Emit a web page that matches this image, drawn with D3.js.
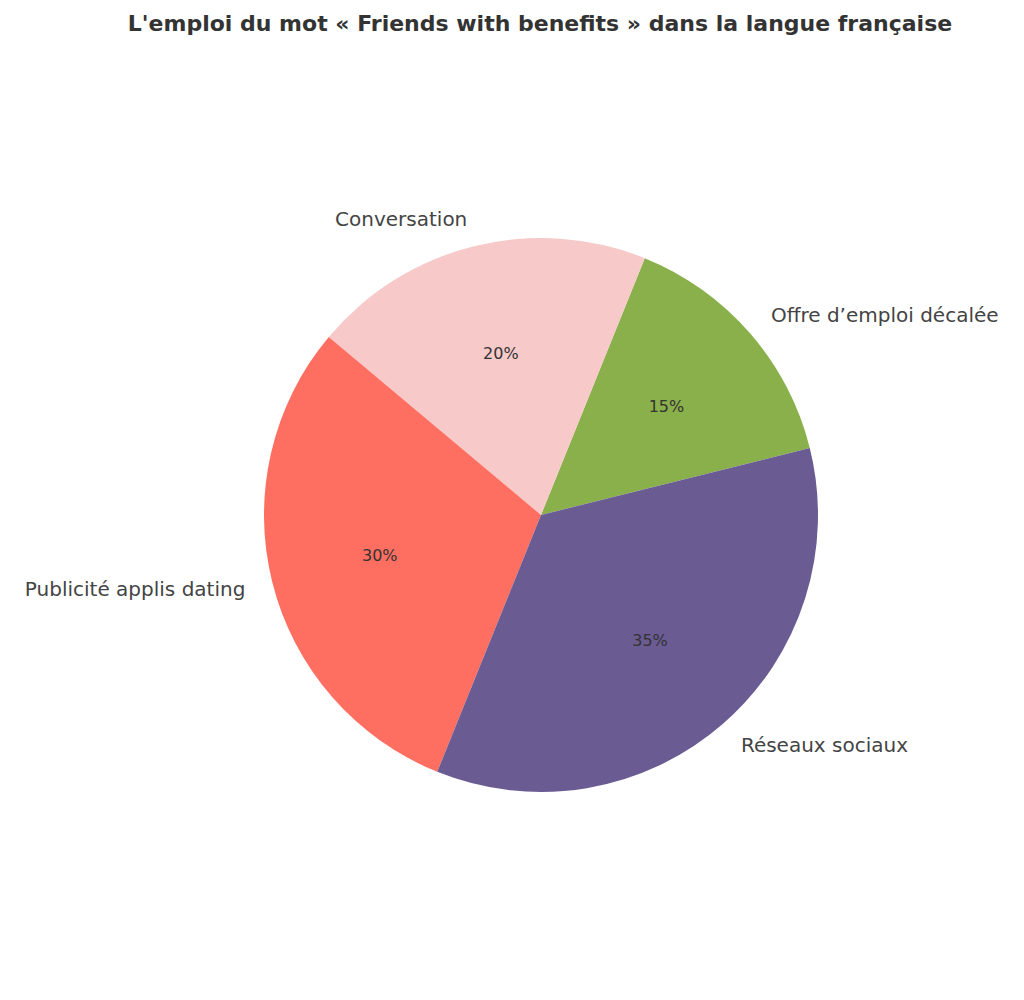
<!DOCTYPE html>
<html><head><meta charset="utf-8">
<script src="https://cdn.jsdelivr.net/npm/d3@7"></script>
<style>body{margin:0;background:#fff}</style></head>
<body><svg id="c" width="1024" height="1000"></svg>
<script>
const categories = ["Offre d’emploi décalée","Conversation","Publicité applis dating","Réseaux sociaux"];
const values = [15,20,30,35];
const colors = ["#8ab04b","#f7c9c9","#ff6f61","#6a5b93"];
const svg = d3.select("#c");
const cx=541, cy=515, r=277;
svg.append("text").attr("x",540).attr("y",31).attr("text-anchor","middle")
  .attr("font-family","DejaVu Sans").attr("font-weight","bold").attr("font-size",22).attr("fill","#333")
  .text("L'emploi du mot « Friends with benefits » dans la langue française");
const start = 76*Math.PI/180;
const pie = d3.pie().sort(null).startAngle(start).endAngle(start-2*Math.PI);
const arcs = pie(values);
const g = svg.append("g").attr("transform",`translate(${cx},${cy})`);
const arc = d3.arc().innerRadius(0).outerRadius(r);
g.selectAll("path").data(arcs).join("path").attr("d",arc).attr("fill",(d,i)=>colors[i]);
arcs.forEach((d,i)=>{
  const m=(d.startAngle+d.endAngle)/2;
  const sx=Math.sin(m), sy=-Math.cos(m);
  g.append("text").attr("x",sx*r*1.1).attr("y",sy*r*1.1).attr("dy","0.35em")
   .attr("text-anchor",sx>0?"start":"end").attr("font-family","DejaVu Sans").attr("font-size",20).attr("fill","#444")
   .text(categories[i]);
  g.append("text").attr("x",sx*r*0.6).attr("y",sy*r*0.6).attr("dy","0.35em")
   .attr("text-anchor","middle").attr("font-family","DejaVu Sans").attr("font-size",16).attr("fill","#333")
   .text(values[i]+"%");
});
</script></body></html>
